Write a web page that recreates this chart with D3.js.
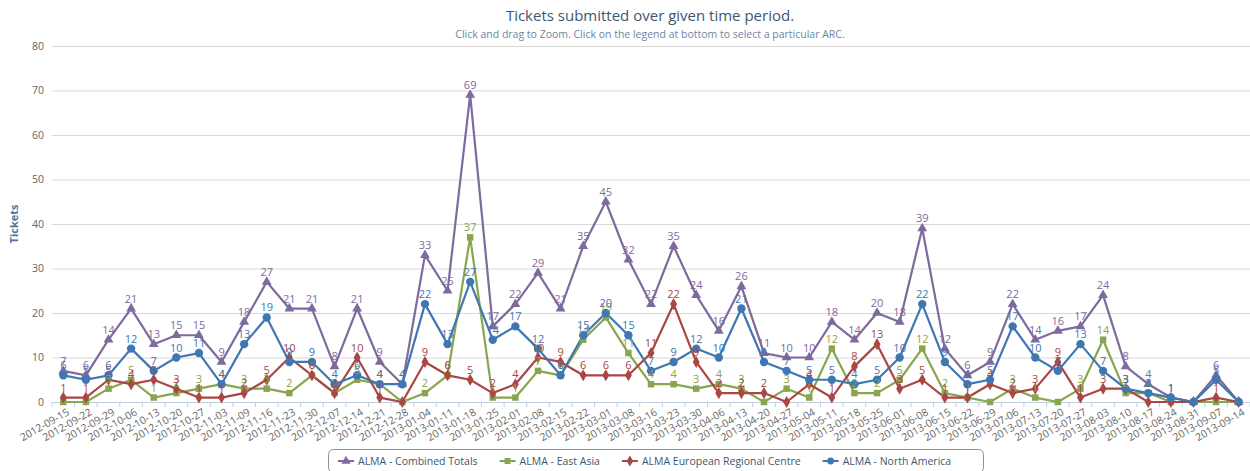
<!DOCTYPE html>
<html><head><meta charset="utf-8">
<script src="https://cdn.jsdelivr.net/npm/d3@7"></script>
<style>body{margin:0;background:#fff;}svg{font-family:"Open Sans","Segoe UI",sans-serif;}</style>
</head><body><div id="chart"></div>
<script>
const dates = ["2012-09-15","2012-09-22","2012-09-29","2012-10-06","2012-10-13","2012-10-20","2012-10-27","2012-11-03","2012-11-09","2012-11-16","2012-11-23","2012-11-30","2012-12-07","2012-12-14","2012-12-21","2012-12-28","2013-01-04","2013-01-11","2013-01-18","2013-01-25","2013-02-01","2013-02-08","2013-02-15","2013-02-22","2013-03-01","2013-03-08","2013-03-16","2013-03-23","2013-03-30","2013-04-06","2013-04-13","2013-04-20","2013-04-27","2013-05-04","2013-05-11","2013-05-18","2013-05-25","2013-06-01","2013-06-08","2013-06-15","2013-06-22","2013-06-29","2013-07-06","2013-07-13","2013-07-20","2013-07-27","2013-08-03","2013-08-10","2013-08-17","2013-08-24","2013-08-31","2013-09-07","2013-09-14"];
const combinedTotals = [7,6,14,21,13,15,15,9,18,27,21,21,8,21,9,4,33,25,69,17,22,29,21,35,45,32,22,35,24,16,26,11,10,10,18,14,20,18,39,12,6,9,22,14,16,17,24,8,4,1,0,6,0];
const eastAsia = [0,0,3,5,1,2,3,4,3,3,2,6,2,5,4,0,2,6,37,1,1,7,6,14,19,11,4,4,3,4,3,0,3,1,12,2,2,5,12,2,1,0,3,1,0,3,14,2,2,0,0,0,0];
const europeanRC = [1,1,5,4,5,3,1,1,2,5,10,6,2,10,1,0,9,6,5,2,4,10,9,6,6,6,11,22,9,2,2,2,0,4,1,8,13,3,5,1,1,4,2,3,9,1,3,3,0,0,0,1,0];
const northAmerica = [6,5,6,12,7,10,11,4,13,19,9,9,4,6,4,4,22,13,27,14,17,12,6,15,20,15,7,9,12,10,21,9,7,5,5,4,5,10,22,9,4,5,17,10,7,13,7,3,2,1,0,5,0];
const yTicks = [0,10,20,30,40,50,60,70,80];
const seriesNames = ["ALMA - Combined Totals","ALMA - East Asia","ALMA European Regional Centre","ALMA - North America"];
const seriesColors = ["#7E6A9C","#89A54E","#AA4643","#3F77B2"];
const seriesSymbols = [d3.symbolTriangle, d3.symbolSquare, d3.symbolDiamond, d3.symbolCircle];
const seriesValues = [combinedTotals, eastAsia, europeanRC, northAmerica];

const W = 1250, H = 471;
const svg = d3.select("#chart").append("svg").attr("width", W).attr("height", H);
const x = d3.scaleBand().domain(dates).range([52, 1250]);
const y = d3.scaleLinear().domain([0, 80]).range([402, 46]);
const cx = d => x(d) + x.bandwidth() / 2;

// title
svg.append("text").attr("x", 650).attr("y", 21).attr("text-anchor", "middle")
  .attr("fill", "#3E576F").attr("font-size", 15).text("Tickets submitted over given time period.");
svg.append("text").attr("x", 650).attr("y", 38).attr("text-anchor", "middle")
  .attr("fill", "#6D869F").attr("font-size", 10.5).text("Click and drag to Zoom. Click on the legend at bottom to select a particular ARC.");

// y grid + labels
const yAxis = svg.append("g").attr("transform", "translate(52,0)")
  .call(d3.axisLeft(y).tickValues(yTicks).tickSize(-1198).tickPadding(8));
yAxis.select(".domain").remove();
yAxis.selectAll(".tick line").attr("stroke", "#D8D8D8");
yAxis.selectAll(".tick text").attr("fill", "#666").attr("font-size", 10.5).attr("font-family", "Open Sans, sans-serif");

svg.append("text").attr("transform", "translate(18,224) rotate(-90)").attr("text-anchor", "middle")
  .attr("fill", "#4D759E").attr("font-weight", "bold").attr("font-size", 11).text("Tickets");

// x axis
const xAxis = svg.append("g").attr("transform", "translate(0,402)")
  .call(d3.axisBottom(x).tickSize(0).tickPadding(0));
xAxis.select(".domain").attr("stroke", "#C0D0E0");
xAxis.selectAll(".tick text").attr("fill", "#666").attr("font-size", 10.5).attr("font-family", "Open Sans, sans-serif")
  .attr("text-anchor", "end").attr("transform", "translate(5,9) rotate(-30)").attr("dy", "0.35em");
svg.append("g").selectAll("line").data(dates.concat(["__end"])).join("line")
  .attr("x1", (d, i) => 52 + i * x.bandwidth()).attr("x2", (d, i) => 52 + i * x.bandwidth())
  .attr("y1", 402).attr("y2", 407).attr("stroke", "#C0D0E0");

// series
const line = d3.line().x((v, i) => cx(dates[i])).y(v => y(v));
seriesValues.forEach((vals, s) => {
  svg.append("path").datum(vals).attr("d", line).attr("fill", "none")
    .attr("stroke", seriesColors[s]).attr("stroke-width", 2.2).attr("stroke-linejoin", "round");
});
seriesValues.forEach((vals, s) => {
  const sym = d3.symbol().type(seriesSymbols[s]).size(s === 3 ? 55 : 42);
  svg.append("g").selectAll("path").data(vals).join("path")
    .attr("d", sym).attr("fill", seriesColors[s])
    .attr("transform", (v, i) => `translate(${cx(dates[i])},${y(v)})`);
});
seriesValues.forEach((vals, s) => {
  svg.append("g").selectAll("text").data(vals.map((v, i) => ({v, i})).filter(d => d.v > 0)).join("text")
    .attr("x", d => cx(dates[d.i])).attr("y", d => y(d.v) - 6).attr("text-anchor", "middle")
    .attr("fill", seriesColors[s]).attr("font-size", 11).text(d => d.v);
});

// legend
const lg = svg.append("g");
const box = lg.append("rect").attr("x", 328.5).attr("y", 449.5).attr("height", 23).attr("rx", 5)
  .attr("fill", "#fff").attr("stroke", "#909090");
let lx = 338;
seriesNames.forEach((name, s) => {
  lg.append("line").attr("x1", lx).attr("x2", lx + 16).attr("y1", 461).attr("y2", 461)
    .attr("stroke", seriesColors[s]).attr("stroke-width", 2);
  lg.append("path").attr("d", d3.symbol().type(seriesSymbols[s]).size(36))
    .attr("transform", `translate(${lx + 8},461)`).attr("fill", seriesColors[s]);
  const t = lg.append("text").attr("x", lx + 20).attr("y", 465).attr("fill", "#3E576F").attr("font-size", 10.5).text(name);
  lx += 20 + t.node().getComputedTextLength() + 22;
});
box.attr("width", Math.max(lx - 22 + 26 - 328, 655));
</script></body></html>
